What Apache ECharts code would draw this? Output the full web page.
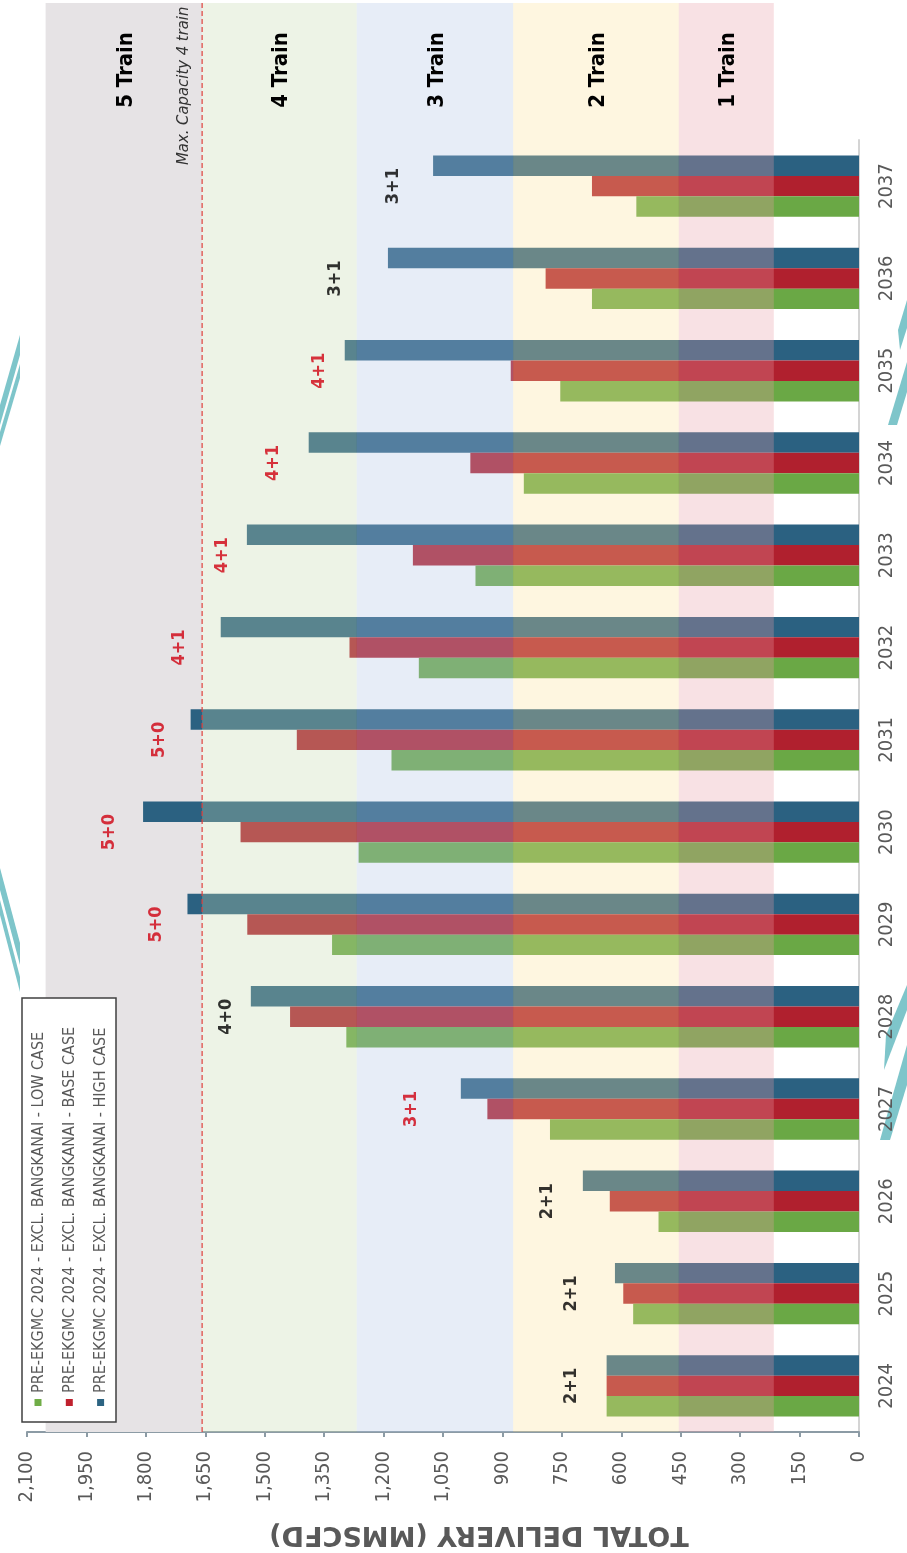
<!DOCTYPE html>
<html>
<head>
<meta charset="utf-8">
<title>Total Delivery (MMSCFD)</title>
<script src="https://cdn.jsdelivr.net/npm/echarts@6/dist/echarts.min.js"></script>
<style>
  html, body { margin: 0; padding: 0; background: #ffffff; }
  #chart { width: 907px; height: 1553px; }
</style>
</head>
<body>
<div id="chart"></div>
<script>
// ---- data ----
const years = ['2024', '2025', '2026', '2027', '2028', '2029', '2030', '2031', '2032', '2033', '2034', '2035', '2036', '2037'];
const lowCase  = [637, 570, 506, 780, 1294, 1330, 1263, 1180, 1111, 968, 846, 754, 674, 562];
const baseCase = [637, 595, 629, 938, 1436, 1544, 1561, 1419, 1286, 1126, 981, 879, 791, 674];
const highCase = [637, 616, 697, 1005, 1535, 1695, 1807, 1687, 1611, 1545, 1389, 1298, 1189, 1075];

// train configuration annotation per year, the value it sits at, and whether it is flagged red
const trainConfig     = ['2+1', '2+1', '2+1', '3+1', '4+0', '5+0', '5+0', '5+0', '4+1', '4+1', '4+1', '4+1', '3+1', '3+1'];
const trainConfigAt   = [726, 726, 786, 1131, 1598, 1773, 1893, 1765, 1715, 1608, 1478, 1362, 1321, 1176];
const trainConfigFlag = [0, 0, 0, 1, 0, 1, 1, 1, 1, 1, 1, 1, 0, 0];

// capacity bands (MMSCFD)
const bandNames = ['1 Train', '2 Train', '3 Train', '4 Train', '5 Train'];
const bandFrom  = [215, 455, 873, 1268, 1658];
const bandTo    = [455, 873, 1268, 1658, 2053];
const maxCapacity4Train = 1658;

const valueTicks = { min: 0, max: 2100, step: 150 };

const seriesNames = [
  'PRE-EKGMC 2024 - EXCL. BANGKANAI - LOW CASE',
  'PRE-EKGMC 2024 - EXCL. BANGKANAI - BASE CASE',
  'PRE-EKGMC 2024 - EXCL. BANGKANAI - HIGH CASE'
];

// ---- styles ----
const NARROW = "'DejaVu Sans Condensed', 'Liberation Sans Narrow', 'Arial Narrow', sans-serif";
const colors = { low: '#6aa845', base: '#b0202e', high: '#2b6181' };
const legendColors = ['#70ad47', '#c0212e', '#2c6482'];
// translucent tints laid over the bars for bands 1-4; band 5 sits behind the bars
const bandTint = ['rgba(232,155,165,0.3)', 'rgba(252,225,152,0.3)', 'rgba(175,195,228,0.3)', 'rgba(195,215,172,0.3)', null];
const backdropFill = '#e6e3e5';
const labelGrey = '#595959';
const stripeFill = '#7ec5ca';

const chart = echarts.init(document.getElementById('chart'), null, { renderer: 'canvas' });

function bandRect(api, from, to) {
  const a = api.coord([from, 0]);
  const b = api.coord([to, 1]);
  return {
    x: Math.min(a[0], b[0]),
    y: b[1],
    width: Math.abs(a[0] - b[0]),
    height: a[1] - b[1]
  };
}

const bandData = bandFrom.map((f, i) => [f, bandTo[i]]);

// legend, drawn reading upwards
const legendChildren = [
  { type: 'rect', z: 20, shape: { x: 0, y: 0, width: 94, height: 424 }, style: { fill: '#ffffff', stroke: '#404040', lineWidth: 1.5 } }
];
seriesNames.forEach((name, i) => {
  legendChildren.push({
    type: 'rect', z: 21,
    shape: { x: 16 + 31.3 * i - 3.5, y: 401, width: 7, height: 7 },
    style: { fill: legendColors[i] }
  });
  legendChildren.push({
    type: 'text', z: 21, x: 16.5 + 31.3 * i, y: 395, rotation: Math.PI / 2,
    style: {
      text: name, fill: labelGrey, font: '16px ' + NARROW,
      align: 'left', verticalAlign: 'middle', textAlign: 'left', textVerticalAlign: 'middle'
    }
  });
});

// decorative stripes at the page edges
const stripes = [
  [[0, 405], [0, 425], [20, 355], [20, 335]],
  [[0, 432], [0, 446], [20, 378], [20, 364]],
  [[0, 868], [0, 890], [20, 965], [20, 943]],
  [[0, 900], [0, 915], [20, 992], [20, 977]],
  [[888, 425], [897, 425], [907, 392], [907, 362]],
  [[900, 350], [907, 328], [907, 300], [898, 330]],
  [[880, 1140], [890, 1140], [907, 1085], [907, 1045]],
  [[884, 1070], [907, 1010], [907, 985], [886, 1035]]
].map(pts => ({ type: 'polygon', z: -10, silent: true, shape: { points: pts }, style: { fill: stripeFill } }));

const option = {
  animation: false,
  backgroundColor: '#ffffff',
  grid: [
    { left: 27, right: 48, top: 140, bottom: 121, containLabel: false, outerBoundsMode: 'none' },
    { left: 27, right: 48, top: 3, bottom: 121, containLabel: false, outerBoundsMode: 'none' }
  ],
  xAxis: [
    {
      type: 'value', gridIndex: 0, inverse: true, position: 'bottom',
      min: valueTicks.min, max: valueTicks.max, interval: valueTicks.step,
      axisLine: { show: true, onZero: false, lineStyle: { color: '#8c9ba5', width: 2 } },
      axisTick: { show: true, length: 5, lineStyle: { color: '#8c9ba5', width: 2 } },
      axisLabel: {
        rotate: 90, margin: 19, color: labelGrey, fontFamily: NARROW, fontSize: 20,
        formatter: v => Number(v).toLocaleString('en-US')
      },
      splitLine: { show: false }
    },
    { type: 'value', gridIndex: 1, inverse: true, min: valueTicks.min, max: valueTicks.max, show: false }
  ],
  yAxis: [
    {
      type: 'category', gridIndex: 0, data: years, position: 'right',
      axisLine: { show: true, onZero: false, lineStyle: { color: '#d4d4d4', width: 2 } },
      axisTick: { show: false },
      axisLabel: { rotate: 90, margin: 18, color: labelGrey, fontFamily: NARROW, fontSize: 20 },
      splitLine: { show: false }
    },
    { type: 'value', gridIndex: 1, min: 0, max: 1, show: false }
  ],
  series: [
    // 5-train band, behind the bars
    {
      type: 'custom', name: 'band-backdrop', coordinateSystem: 'cartesian2d',
      xAxisIndex: 1, yAxisIndex: 1, z: 1, silent: true,
      data: [bandData[4]],
      renderItem: (params, api) => ({
        type: 'rect',
        shape: bandRect(api, api.value(0), api.value(1)),
        style: { fill: backdropFill }
      })
    },
    {
      type: 'bar', name: seriesNames[2], xAxisIndex: 0, yAxisIndex: 0, z: 2,
      data: highCase, barGap: '0%', barCategoryGap: '33.5%',
      itemStyle: { color: colors.high }
    },
    {
      type: 'bar', name: seriesNames[1], xAxisIndex: 0, yAxisIndex: 0, z: 2,
      data: baseCase, barGap: '0%', barCategoryGap: '33.5%',
      itemStyle: { color: colors.base }
    },
    {
      type: 'bar', name: seriesNames[0], xAxisIndex: 0, yAxisIndex: 0, z: 2,
      data: lowCase, barGap: '0%', barCategoryGap: '33.5%',
      itemStyle: { color: colors.low }
    },
    // bands 1-4 tint over the bars, plus every band title
    {
      type: 'custom', name: 'band-overlay', coordinateSystem: 'cartesian2d',
      xAxisIndex: 1, yAxisIndex: 1, z: 5, silent: true,
      data: bandData,
      renderItem: (params, api) => {
        const i = params.dataIndex;
        const r = bandRect(api, api.value(0), api.value(1));
        const children = [];
        if (bandTint[i]) {
          children.push({ type: 'rect', shape: r, style: { fill: bandTint[i] } });
        }
        children.push({
          type: 'text',
          x: r.x + r.width / 2 + 2,
          y: r.y + 67,
          rotation: Math.PI / 2,
          style: {
            text: bandNames[i], fill: '#000000',
            font: 'bold 22px ' + NARROW,
            align: 'center', verticalAlign: 'middle',
            textAlign: 'center', textVerticalAlign: 'middle'
          }
        });
        return { type: 'group', children };
      }
    },
    // maximum capacity of 4 trains
    {
      type: 'custom', name: 'capacity-line', coordinateSystem: 'cartesian2d',
      xAxisIndex: 1, yAxisIndex: 1, z: 6, silent: true,
      data: [[maxCapacity4Train, 1]],
      renderItem: (params, api) => {
        const bottom = api.coord([api.value(0), 0]);
        const top = api.coord([api.value(0), 1]);
        return {
          type: 'group',
          children: [
            {
              type: 'line',
              shape: { x1: top[0], y1: top[1], x2: bottom[0], y2: bottom[1] },
              style: { stroke: '#e0403c', lineWidth: 1.2, lineDash: [5, 3] }
            },
            {
              type: 'text',
              x: top[0] - 18,
              y: top[1] + 162,
              rotation: Math.PI / 2,
              style: {
                text: 'Max. Capacity 4 train', fill: '#333333',
                font: 'italic 16.5px ' + NARROW,
                align: 'left', verticalAlign: 'middle',
                textAlign: 'left', textVerticalAlign: 'middle'
              }
            }
          ]
        };
      }
    },
    // train configuration annotations
    {
      type: 'scatter', name: 'train-config', xAxisIndex: 0, yAxisIndex: 0, z: 8, silent: true,
      symbolSize: 1,
      itemStyle: { color: 'rgba(0,0,0,0)' },
      data: trainConfigAt.map((v, i) => ({
        value: [v, i],
        label: { color: trainConfigFlag[i] ? '#d00010' : '#000000' }
      })),
      label: {
        show: true, position: 'inside', rotate: 90,
        fontFamily: NARROW, fontWeight: 'bold', fontSize: 18,
        formatter: p => trainConfig[p.dataIndex]
      }
    }
  ],
  graphic: stripes.concat([
    { type: 'group', x: 22, y: 998, z: 20, silent: true, children: legendChildren },
    // value axis title
    {
      type: 'text', x: 479, y: 1534, rotation: Math.PI, z: 20, silent: true,
      style: {
        text: 'TOTAL DELIVERY (MMSCFD)', fill: labelGrey,
        font: 'bold 27px "DejaVu Sans", sans-serif',
        align: 'center', verticalAlign: 'middle', textAlign: 'center', textVerticalAlign: 'middle'
      }
    }
  ])
};

chart.setOption(option);
</script>
</body>
</html>
